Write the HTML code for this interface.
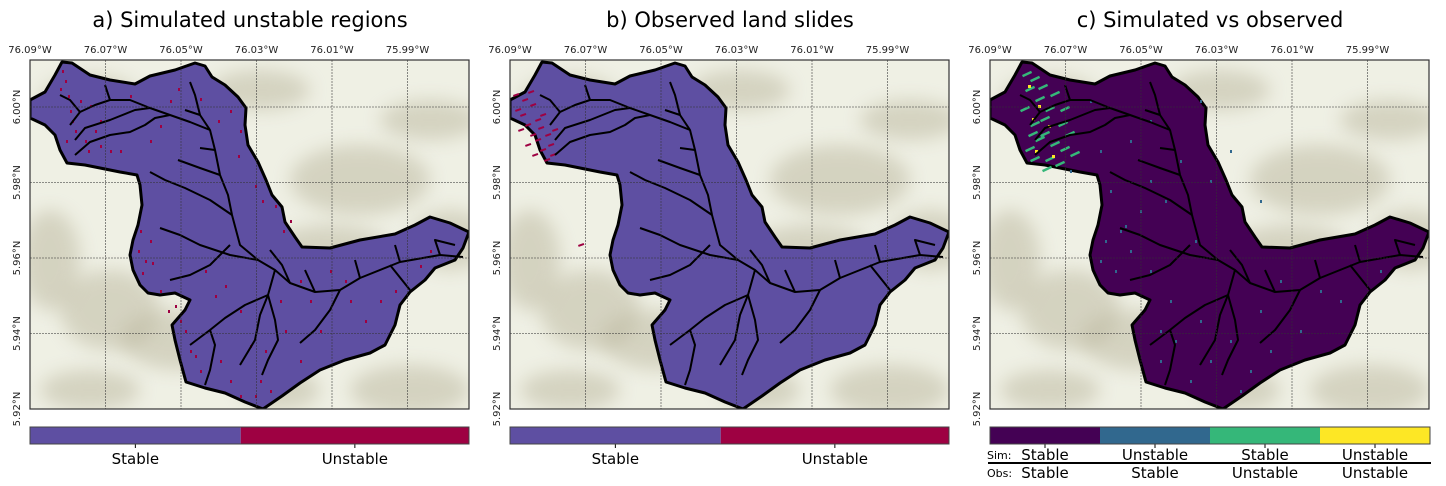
<!DOCTYPE html>
<html><head><meta charset="utf-8">
<style>
body{margin:0;background:#fff;width:1446px;height:486px;overflow:hidden;font-family:"DejaVu Sans","Liberation Sans",sans-serif;}
svg{position:absolute;left:0;top:0;}
</style></head>
<body>
<svg id="fig" width="1446" height="486" viewBox="0 0 1446 486" xmlns="http://www.w3.org/2000/svg"></svg>
<script>
const NS="http://www.w3.org/2000/svg";
const fig=document.getElementById('fig');
const panelX=[30,510,990];
const titles=["a) Simulated unstable regions","b) Observed land slides","c) Simulated vs observed"];
const lonTicks=["76.09°W","76.07°W","76.05°W","76.03°W","76.01°W","75.99°W"];
const lonVals=[-76.09,-76.07,-76.05,-76.03,-76.01,-75.99];
const latTicks=["6.00°N","5.98°N","5.96°N","5.94°N","5.92°N"];
const latVals=[6.00,5.98,5.96,5.94,5.92];
const fills=["#5e4fa2","#5e4fa2","#440154"];
const cbCats2=["Stable","Unstable"];
const cbFrac2=[0.48,0.52];
const cbCols2=["#5e4fa2","#9e0142"];
const simCats=["Stable","Unstable","Stable","Unstable"];
const obsCats=["Stable","Stable","Unstable","Unstable"];
const cbFrac4=[0.25,0.25,0.25,0.25];
const cbCols4=["#440154","#31688e","#35b779","#fde725"];
const MW=439,MH=349,MT=60;
function lonX(v){return (v+76.09)/0.02*75.5;}
function latY(v){return (6.00-v)/0.02*75.5+47;}
const outline=[[30,100],[45,92],[55,75],[62,62],[72,63],[90,75],[110,80],[135,84],[150,76],[175,70],[195,63],[205,66],[212,77],[225,85],[238,97],[246,108],[245,125],[248,145],[258,162],[266,180],[272,195],[282,207],[285,222],[295,237],[302,247],[330,248],[360,240],[395,234],[415,225],[430,217],[450,223],[469,232],[463,248],[455,260],[435,268],[425,280],[410,292],[400,305],[395,325],[385,345],[370,353],[345,360],[320,370],[300,383],[282,396],[263,409],[245,402],[225,393],[205,388],[186,382],[180,360],[175,340],[172,325],[185,310],[190,300],[175,293],[160,295],[148,293],[140,285],[133,270],[130,255],[133,240],[138,225],[142,205],[140,185],[137,175],[120,172],[100,168],[85,165],[67,163],[60,150],[55,135],[45,125],[30,118]];
const rivers=[
[[463,257],[440,255],[400,262],[360,278],[340,290],[315,292],[290,283],[275,270],[258,260],[240,245],[232,215],[228,195],[220,175],[215,150],[210,130],[200,115],[185,110]],
[[258,260],[230,255],[200,245],[180,235],[160,228]],
[[230,245],[210,265],[190,275],[170,280]],
[[232,215],[210,200],[185,188],[165,180],[150,172]],
[[220,175],[200,168],[178,160]],
[[210,130],[190,122],[170,115],[150,108],[130,100],[110,100],[95,105],[80,112],[70,125]],
[[150,108],[135,110],[110,120],[85,128],[75,140]],
[[170,115],[155,118],[145,125],[130,132],[110,135],[90,142],[75,155]],
[[215,150],[200,148]],
[[200,115],[195,95],[190,82]],
[[275,270],[268,295],[260,315],[255,340],[240,365]],
[[268,295],[245,305],[225,318],[210,330],[190,345]],
[[210,330],[215,345],[210,370],[205,385]],
[[268,295],[275,320],[278,340],[268,360],[262,375]],
[[340,290],[330,310],[315,330],[300,343]],
[[390,265],[410,290]],
[[440,255],[435,240],[455,245]],
[[400,262],[395,245]],[[360,278],[355,260]],[[315,292],[305,270]],
[[290,283],[282,265],[270,250]],
[[110,100],[105,85]],[[80,112],[70,100],[60,95]]];
const specA=[[65,80],[68,95],[70,110],[75,130],[85,140],[100,145],[120,150],[150,140],[160,125],[170,100],[200,98],[230,110],[240,130],[140,230],[145,260],[150,240],[160,290],[180,320],[190,350],[200,370],[220,360],[250,345],[260,380],[270,390],[280,300],[300,280],[330,270],[350,300],[290,220],[255,185],[275,205],[320,330],[380,300],[420,265],[215,295],[240,395],[300,360],[100,120],[90,105],[62,70],[72,120],[80,100],[95,130],[110,150],[138,250],[142,272],[152,262],[168,310],[175,305],[185,330],[195,355],[230,380],[255,395],[265,350],[285,330],[310,300],[345,280],[365,320],[395,290],[430,250],[60,88],[66,140],[88,150],[130,95],[178,88],[218,120],[238,155],[262,200],[283,230],[205,270],[225,285],[240,310]];
const specB=[[35,110],[40,115],[45,125],[50,135],[55,140],[60,150],[45,145],[38,130],[55,120],[65,135],[70,155],[50,105],[60,115],[42,100],[68,145],[52,155],[72,130],[48,92],[98,245],[33,95],[58,128],[64,160]];
const specCg=[[1030,80],[1025,90],[1035,100],[1045,110],[1020,110],[1030,125],[1040,135],[1050,145],[1060,150],[1035,140],[1025,150],[1045,160],[1055,165],[1040,120],[1050,95],[1065,135],[1060,110],[1028,135],[1022,75],[1038,88],[1058,125],[1070,155],[1042,170],[1030,160]];
const specCy=[[1028,85],[1038,105],[1048,125],[1035,150],[1052,155],[1032,118]];
const specCb=[[1100,150],[1130,140],[1150,120],[1180,160],[1210,180],[1230,150],[1260,200],[1120,230],[1130,250],[1100,260],[1150,270],[1170,300],[1200,320],[1230,340],[1260,310],[1280,280],[1320,290],[1160,360],[1190,380],[1250,370],[1110,190],[1140,210],[1070,170],[1090,100],[1200,100],[1105,240],[1115,270],[1125,225],[1160,330],[1175,340],[1210,360],[1240,390],[1270,350],[1300,330],[1340,300],[1380,270],[1150,180],[1165,200],[1195,240]];
function el(tag,attrs,parent){const e=document.createElementNS(NS,tag);for(const k in attrs)e.setAttribute(k,attrs[k]);(parent||fig).appendChild(e);return e;}
const defs=el('defs',{});
const flt=el('filter',{id:'blur',x:'-50%',y:'-50%',width:'200%',height:'200%'},defs);
el('feGaussianBlur',{stdDeviation:'9'},flt);
const hills=[[60,40,50,25],[150,280,60,30],[330,120,70,35],[400,60,50,20],[300,190,60,25],[80,250,50,40],[380,330,60,25],[20,200,30,50],[230,30,50,20],[420,180,40,30],[60,330,50,20],[250,330,40,20]];
panelX.forEach((px,pi)=>{
  const g=el('g',{});
  
  
  const t=el('text',{x:px+220,y:27,'font-size':'21','text-anchor':'middle',fill:'#000'},g);
  t.textContent=titles[pi];
  
  
  const cid='clip'+pi;
  const cp=el('clipPath',{id:cid},defs);
  el('rect',{x:px,y:MT,width:MW,height:MH},cp);
  const m=el('g',{'clip-path':'url(#'+cid+')'},g);
  el('rect',{x:px,y:MT,width:MW,height:MH,fill:'#eff0e4'},m);
  hills.forEach(h=>{el('ellipse',{cx:px+h[0],cy:MT+h[1],rx:h[2],ry:h[3],fill:'#b5b096',opacity:'0.45',filter:'url(#blur)'},m);});
  const dx=px-30;
  const poly=el('polygon',{points:outline.map(p=>(p[0]+dx)+','+p[1]).join(' '),fill:fills[pi],stroke:'#000','stroke-width':'3','stroke-linejoin':'round'},m);
  
  
  if(pi===0)specA.forEach(s=>el('rect',{x:s[0]+dx,y:s[1],width:2,height:3,fill:'#9e0142'},m));
  if(pi===1)specB.forEach(s=>el('rect',{x:s[0]+dx,y:s[1],width:6,height:2,fill:'#9e0142',transform:'rotate(-20 '+(s[0]+dx)+' '+s[1]+')'},m));
  if(pi===2){
    specCb.forEach(s=>el('rect',{x:s[0],y:s[1],width:2,height:3,fill:'#31688e'},m));
    specCg.forEach(s=>el('rect',{x:s[0],y:s[1],width:10,height:2.5,fill:'#35b779',transform:'rotate(-25 '+s[0]+' '+s[1]+')'},m));
    specCy.forEach(s=>el('rect',{x:s[0],y:s[1],width:3,height:3,fill:'#fde725'},m));
  }
  rivers.forEach(r=>el('polyline',{points:r.map(p=>(p[0]+dx)+','+p[1]).join(' '),fill:'none',stroke:'#000','stroke-width':'2','stroke-linejoin':'round'},m));
  lonVals.forEach((v,i)=>{const x=px+lonX(v);
    if(i>0)el('line',{x1:x,y1:MT,x2:x,y2:MT+MH,stroke:'#333','stroke-width':'0.8','stroke-dasharray':'2,1',opacity:'0.7'},m);
    const tt=el('text',{x:x,y:53,'font-size':'10','text-anchor':'middle',fill:'#222'},g);tt.textContent=lonTicks[i];
    });
  latVals.forEach((v,i)=>{const y=MT+latY(v);
    if(i<latVals.length-1)el('line',{x1:px,y1:y,x2:px+MW,y2:y,stroke:'#333','stroke-width':'0.8','stroke-dasharray':'2,1',opacity:'0.7'},m);
    const tt=el('text',{x:px-10,y:y,'font-size':'10','text-anchor':'middle',fill:'#222',transform:'rotate(-90 '+(px-10)+' '+y+')'},g);tt.textContent=latTicks[i];
    });
  el('rect',{x:px,y:MT,width:MW,height:MH,fill:'none',stroke:'#333','stroke-width':'1.2'},g);
  const cbx=px,cbw=pi===2?440:439,cby=427,cbh=17;
  const cats=pi===2?simCats:cbCats2,cols=pi===2?cbCols4:cbCols2,fr=pi===2?cbFrac4:cbFrac2;
  let acc=0;
  cats.forEach((c,i)=>{
    const x0=cbx+acc*cbw,w=fr[i]*cbw;acc+=fr[i];
    const r=el('rect',{x:x0,y:cby,width:w,height:cbh,fill:cols[i]},g);
    
    el('line',{x1:x0+w/2,y1:cby+cbh,x2:x0+w/2,y2:cby+cbh+4,stroke:'#000'},g);
    const tt=el('text',{x:x0+w/2,y:pi===2?460:464,'font-size':'15','text-anchor':'middle',fill:'#000'},g);tt.textContent=c;
    
    if(pi===2){const t2=el('text',{x:x0+w/2,y:478,'font-size':'15','text-anchor':'middle',fill:'#000'},g);t2.textContent=obsCats[i];
      }
  });
  el('rect',{x:cbx,y:cby,width:cbw,height:cbh,fill:'none',stroke:'#444','stroke-width':'1'},g);
  if(pi===2){
    el('line',{x1:988,y1:463,x2:1431,y2:463,stroke:'#000','stroke-width':'2'},g);
    const s=el('text',{x:987,y:459,'font-size':'11',fill:'#000'},g);s.textContent='Sim:';
    
    const o=el('text',{x:987,y:477,'font-size':'11',fill:'#000'},g);o.textContent='Obs:';
    
  }
});
</script>
</body></html>
